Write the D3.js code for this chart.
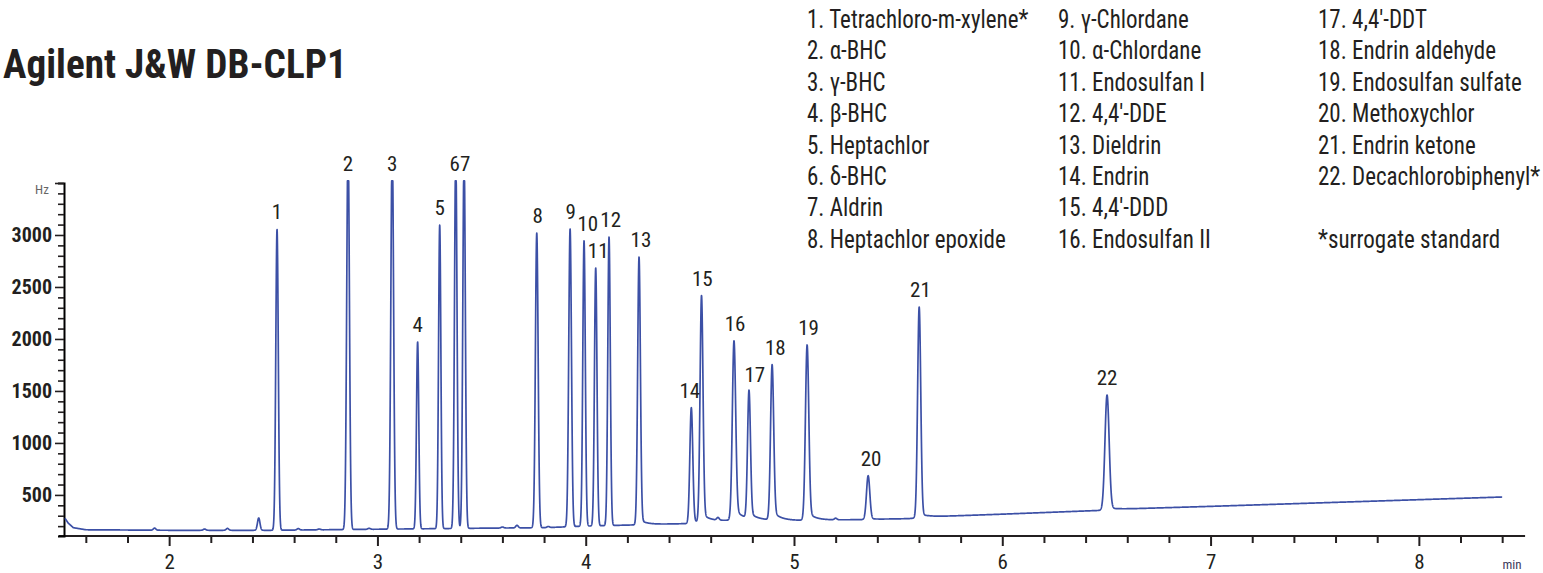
<!DOCTYPE html>
<html>
<head>
<meta charset="utf-8">
<title>Agilent J&amp;W DB-CLP1</title>
<script src="https://d3js.org/d3.v7.min.js"></script>
<style>
  body { margin: 0; background: #fff; }
  text { font-family: "Roboto Condensed", "DejaVu Sans Condensed", Roboto, sans-serif; fill: #231f20; }
</style>
</head>
<body>
<svg width="1543" height="573"></svg>
<script>
// peaks: retention time (min), apex (Hz)
var peakIds   = ["1","2","3","4","5","6","7","8","9","10","11","12","13","14","15","16","17","18","19","20","21","22"];
var retention = [2.518, 2.859, 3.071, 3.193, 3.299, 3.376, 3.416, 3.765, 3.925, 3.992, 4.048, 4.112, 4.256,
                 4.507, 4.556, 4.712, 4.784, 4.895, 5.063, 5.356, 5.601, 6.503];
var apex      = [3053, 3900, 3900, 1971, 3096, 3800, 3800, 3019, 3058, 2945, 2683, 2981, 2788,
                 1339, 2413, 1981, 1493, 1750, 1942, 685, 2307, 1461];
var peakWidth = [0.006, 0.0065, 0.0065, 0.0055, 0.0055, 0.006, 0.006, 0.0065, 0.0065, 0.006, 0.006, 0.006, 0.0065,
                 0.007, 0.007, 0.008, 0.007, 0.0075, 0.008, 0.008, 0.0075, 0.010];
var tailing   = [0, 0, 0, 0, 0, 0, 0, 0, 0, 0, 0, 0, 0.02,
                 0.02, 0.04, 0.07, 0.05, 0.06, 0.05, 0.02, 0.02, 0.02];
// peak labels (6 and 7 share one label)
var labelText = ["1","2","3","4","5","67","8","9","10","11","12","13","14","15","16","17","18","19","20","21","22"];
var labelTime = [2.518, 2.859, 3.071, 3.193, 3.299, 3.396, 3.770, 3.928, 4.010, 4.060, 4.120, 4.265,
                 4.500, 4.560, 4.717, 4.812, 4.910, 5.070, 5.370, 5.607, 6.503];

// small unlabelled bumps
var bumpTime   = [1.93, 2.17, 2.28, 2.43, 2.62, 2.72, 2.96, 3.60, 3.67, 3.82, 4.635, 5.20];
var bumpHeight = [20, 12, 18, 118, 14, 8, 10, 10, 25, 10, 25, 15];

// drifting baseline (Hz)
var baseTime  = [1.50, 1.515, 1.54, 1.60, 2.0, 2.5, 3.0, 3.5, 3.8, 4.0, 4.3, 4.5, 4.6, 4.75, 5.0, 5.3, 5.55, 5.65, 6.0, 6.48, 6.55, 7.0, 8.4];
var baseValue = [275, 230, 185, 165, 160, 160, 170, 180, 185, 200, 215, 225, 245, 262, 255, 262, 272, 290, 315, 352, 363, 390, 480];

var xTicks = [2, 3, 4, 5, 6, 7, 8];
var yTicks = [500, 1000, 1500, 2000, 2500, 3000];

var legendCols = [
  ["1. Tetrachloro-m-xylene*", "2. \u03b1-BHC", "3. \u03b3-BHC", "4. \u03b2-BHC", "5. Heptachlor", "6. \u03b4-BHC", "7. Aldrin", "8. Heptachlor epoxide"],
  ["9. \u03b3-Chlordane", "10. \u03b1-Chlordane", "11. Endosulfan I", "12. 4,4\u2032-DDE", "13. Dieldrin", "14. Endrin", "15. 4,4\u2032-DDD", "16. Endosulfan II"],
  ["17. 4,4\u2032-DDT", "18. Endrin aldehyde", "19. Endosulfan sulfate", "20. Methoxychlor", "21. Endrin ketone", "22. Decachlorobiphenyl*", "", "*surrogate standard"]
];

var svg = d3.select("svg");
var x = d3.scaleLinear().domain([1.5, 8.5]).range([65, 1523]);
var y = d3.scaleLinear().domain([105, 3500]).range([536, 183]);
var clipTop = 3520;

var baseline = d3.scaleLinear().domain(baseTime).range(baseValue).clamp(true);

function shape(t, rt, s, tail) {
  var d = t - rt;
  var g = Math.exp(-0.5 * d * d / (s * s));
  if (d <= 0 || !tail) return g;
  return (1 - tail) * g + tail * Math.exp(-d / 0.035);
}

var step = 0.0006;
var trace = d3.range(1.5, 8.4 + step / 2, step).map(function (t) {
  var v = baseline(t);
  for (var i = 0; i < retention.length; i++) {
    if (Math.abs(t - retention[i]) > 0.4) continue;
    v += (apex[i] - baseline(retention[i])) * shape(t, retention[i], peakWidth[i], tailing[i]);
  }
  for (var j = 0; j < bumpTime.length; j++) {
    v += bumpHeight[j] * shape(t, bumpTime[j], 0.006, 0);
  }
  return [t, Math.min(v, clipTop)];
});

// title
svg.append("text")
  .attr("x", 3).attr("y", 78)
  .attr("font-size", 40).attr("font-weight", "bold")
  .attr("transform", "translate(3,0) scale(0.98,1) translate(-3,0)")
  .text("Agilent J&W DB-CLP1");

// legend, slightly condensed like the original typeface
var colX = [807, 1058, 1318];
legendCols.forEach(function (col, c) {
  svg.append("g")
    .attr("transform", "translate(" + colX[c] + ",0) scale(0.92,1)")
    .selectAll("text")
    .data(col)
    .enter().append("text")
    .attr("x", 0)
    .attr("y", function (d, i) { return 28 + i * 31.4; })
    .attr("font-size", 25)
    .text(function (d) { return d; });
});

// x axis
var xAxis = svg.append("g").attr("transform", "translate(0," + y(105) + ")");
xAxis.append("line")
  .attr("x1", x(1.47)).attr("x2", x(8.51))
  .attr("stroke", "#231f20").attr("stroke-width", 2);
xAxis.append("g")
  .call(d3.axisBottom(x).tickValues(d3.range(1.6, 8.5, 0.2).filter(function (t) { return Math.abs(t - Math.round(t)) > 0.01; }))
    .tickSize(7).tickFormat(""))
  .call(function (g) { g.select(".domain").remove(); });
xAxis.append("g")
  .call(d3.axisBottom(x).tickValues(xTicks).tickSize(10).tickPadding(8).tickFormat(d3.format("d")))
  .call(function (g) { g.select(".domain").remove(); })
  .call(function (g) { g.selectAll("text").attr("font-size", 21).attr("font-family", null); });
xAxis.selectAll(".tick line").attr("stroke", "#231f20").attr("stroke-width", 2);
svg.append("text")
  .attr("x", 1512).attr("y", 569)
  .attr("text-anchor", "middle")
  .attr("font-size", 13)
  .style("fill", "#3d3a5c")
  .text("min");

// y axis
var yAxis = svg.append("g").attr("transform", "translate(64,0)");
yAxis.append("g")
  .call(d3.axisLeft(y).tickValues(d3.range(200, 3501, 100).filter(function (v) { return v % 500 !== 0; }))
    .tickSize(6).tickFormat(""))
  .call(function (g) { g.select(".domain").attr("stroke-width", 2); });
yAxis.append("g")
  .call(d3.axisLeft(y).tickValues(yTicks.concat([3500])).tickSize(9).tickPadding(3)
    .tickFormat(function (d) { return d === 3500 ? "" : d; }))
  .call(function (g) { g.select(".domain").remove(); })
  .call(function (g) { g.selectAll("text").attr("font-size", 20).attr("font-weight", "bold").attr("font-family", null); });
yAxis.selectAll(".tick line").attr("stroke", "#231f20").attr("stroke-width", 1.6);
svg.append("text")
  .attr("x", 42).attr("y", 194)
  .attr("text-anchor", "middle")
  .attr("font-size", 13)
  .style("fill", "#666")
  .text("Hz");

// trace
svg.append("path")
  .datum(trace)
  .attr("fill", "none")
  .attr("stroke", "#3c50a6")
  .attr("stroke-width", 1.7)
  .attr("stroke-linejoin", "round")
  .attr("d", d3.line().x(function (d) { return x(d[0]); }).y(function (d) { return y(d[1]); }));

// peak labels, just above each apex
svg.append("g").selectAll("text")
  .data(labelText)
  .enter().append("text")
  .attr("x", function (d, i) { return x(labelTime[i]); })
  .attr("y", function (d, i) {
    var k = peakIds.indexOf(d === "67" ? "6" : d);
    return y(Math.min(apex[k], clipTop)) - 10;
  })
  .attr("text-anchor", "middle")
  .attr("font-size", 21)
  .text(function (d) { return d; });
</script>
</body>
</html>
